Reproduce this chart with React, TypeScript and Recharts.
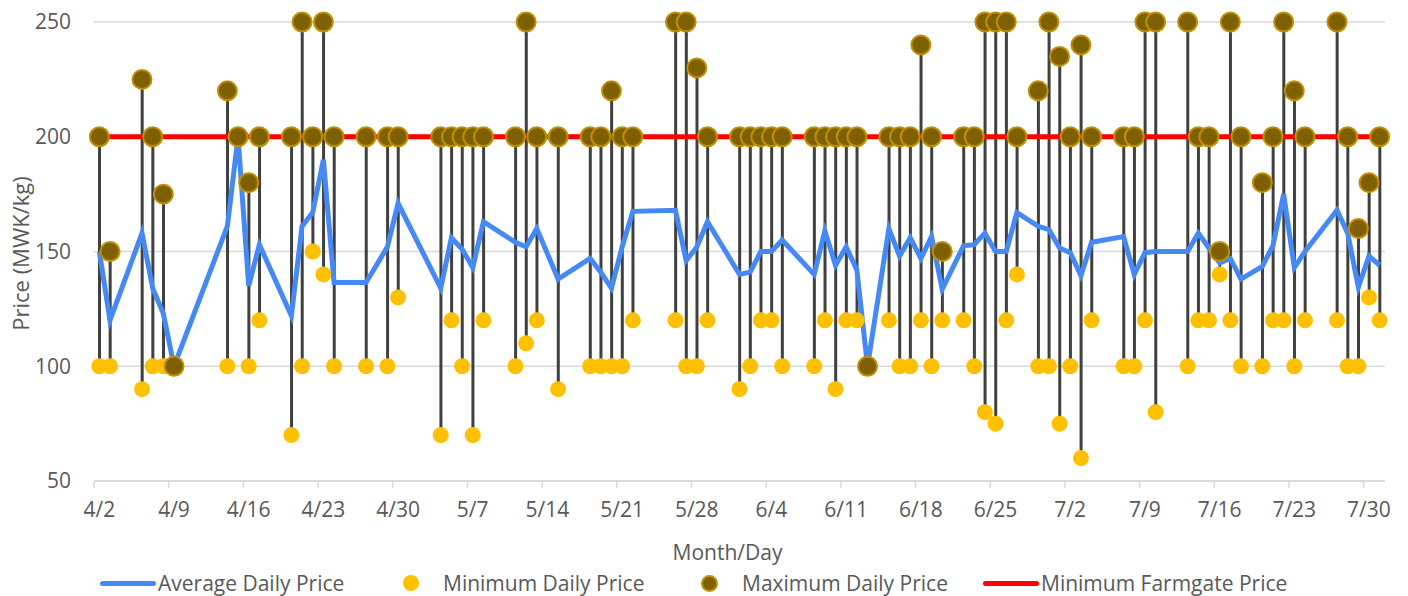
import {
  ComposedChart,
  Line,
  Bar,
  Scatter,
  XAxis,
  YAxis,
  CartesianGrid,
  Legend,
} from "recharts";

// market days with a recorded price (month/day)
const dates = [
  "4/2", "4/3", "4/6", "4/7", "4/8", "4/9", "4/14", "4/15", "4/16", "4/17",
  "4/20", "4/21", "4/22", "4/23", "4/24", "4/27", "4/29", "4/30", "5/4", "5/5",
  "5/6", "5/7", "5/8", "5/11", "5/12", "5/13", "5/15", "5/18", "5/19", "5/20",
  "5/21", "5/22", "5/26", "5/27", "5/28", "5/29", "6/1", "6/2", "6/3", "6/4",
  "6/5", "6/8", "6/9", "6/10", "6/11", "6/12", "6/13", "6/15", "6/16", "6/17",
  "6/18", "6/19", "6/20", "6/22", "6/23", "6/24", "6/25", "6/26", "6/27", "6/29",
  "6/30", "7/1", "7/2", "7/3", "7/4", "7/7", "7/8", "7/9", "7/10", "7/13",
  "7/14", "7/15", "7/16", "7/17", "7/18", "7/20", "7/21", "7/22", "7/23", "7/24",
  "7/27", "7/28", "7/29", "7/30", "7/31",
];

const avgPrice = [
  150, 120, 158, 134, 123, 100, 161, 200, 135, 153,
  122, 161, 167, 190, 136.5, 136.5, 152, 171, 134, 156,
  151, 143, 163, 154, 152, 160, 138, 147, 141, 134,
  152, 167.5, 168, 146, 152, 163, 140, 141, 150, 150,
  155, 140, 159, 144, 152, 142, 100, 160, 148, 156,
  147, 156.5, 133.5, 152.5, 153, 158, 150, 150, 167, 161,
  159.5, 151.5, 149.5, 139.5, 154, 156.5, 140, 149.5, 150, 150,
  158, 151.5, 145, 147, 138, 143.5, 152.5, 175, 143, 150,
  168, 158, 134.5, 148, 144,
];

const minPrice = [
  100, 100, 90, 100, 100, 100, 100, 200, 100, 120,
  70, 100, 150, 140, 100, 100, 100, 130, 70, 120,
  100, 70, 120, 100, 110, 120, 90, 100, 100, 100,
  100, 120, 120, 100, 100, 120, 90, 100, 120, 120,
  100, 100, 120, 90, 120, 120, 100, 120, 100, 100,
  120, 100, 120, 120, 100, 80, 75, 120, 140, 100,
  100, 75, 100, 60, 120, 100, 100, 120, 80, 100,
  120, 120, 140, 120, 100, 100, 120, 120, 100, 120,
  120, 100, 100, 130, 120,
];

const maxPrice = [
  200, 150, 225, 200, 175, 100, 220, 200, 180, 200,
  200, 250, 200, 250, 200, 200, 200, 200, 200, 200,
  200, 200, 200, 200, 250, 200, 200, 200, 200, 220,
  200, 200, 250, 250, 230, 200, 200, 200, 200, 200,
  200, 200, 200, 200, 200, 200, 100, 200, 200, 200,
  240, 200, 150, 200, 200, 250, 250, 250, 200, 220,
  250, 235, 200, 240, 200, 200, 200, 250, 250, 250,
  200, 200, 150, 250, 200, 180, 200, 250, 220, 200,
  250, 200, 160, 180, 200,
];

const FARMGATE = 200;
const yTicks = [50, 100, 150, 200, 250];
const TICK_EVERY = 7;

const START = Date.UTC(2020, 3, 2);
const DAY = 86400000;
const toIndex = (s: string) => {
  const [m, d] = s.split("/").map(Number);
  return Math.round((Date.UTC(2020, m - 1, d) - START) / DAY);
};
const toLabel = (i: number) => {
  const dt = new Date(START + Math.round(i) * DAY);
  return `${dt.getUTCMonth() + 1}/${dt.getUTCDate()}`;
};

const lastDay = toIndex(dates[dates.length - 1]);
const xTicks: number[] = [];
for (let i = 0; i <= lastDay; i += TICK_EVERY) xTicks.push(i - 0.5);

const rows = dates.map((d, i) => ({
  day: toIndex(d),
  avg: avgPrice[i],
  min: minPrice[i],
  max: maxPrice[i],
  range: [minPrice[i], maxPrice[i]],
  farmgate: FARMGATE,
}));

const FONT = "'Open Sans', sans-serif";
const GREY = "#595959";
const FS = 21;

const DateTick = (props: any) => {
  const { x, y, payload } = props;
  return (
    <text x={x + 5.3} y={y + 27} textAnchor="middle" fill={GREY} fontSize={FS} fontFamily={FONT}>
      {toLabel(payload.value + 0.5)}
    </text>
  );
};

const legendItems = [
  { label: "Average Daily Price", kind: "line", color: "#4589F5", left: 100 },
  { label: "Minimum Daily Price", kind: "dot", color: "#FFC000", left: 403 },
  { label: "Maximum Daily Price", kind: "dotMax", color: "#7F6000", left: 701 },
  { label: "Minimum Farmgate Price", kind: "line", color: "#FF0000", left: 983 },
];

const renderLegend = () => (
  <div style={{ position: "relative", height: 30, fontFamily: FONT, fontSize: FS, color: GREY }}>
    {legendItems.map((it) => (
      <div
        key={it.label}
        style={{ position: "absolute", left: it.left, top: 3, display: "flex", alignItems: "center", whiteSpace: "nowrap" }}
      >
        {it.kind === "line" ? (
          <span style={{ display: "inline-block", width: 56, height: 5, borderRadius: 3, background: it.color, marginRight: 2 }} />
        ) : (
          <span
            style={{
              display: "inline-block",
              width: it.kind === "dotMax" ? 13 : 16,
              height: it.kind === "dotMax" ? 13 : 16,
              borderRadius: "50%",
              background: it.color,
              border: it.kind === "dotMax" ? "2px solid #BF9000" : "none",
              marginRight: 24,
            }}
          />
        )}
        <span>{it.label}</span>
      </div>
    ))}
  </div>
);

export default function App() {
  return (
    <div style={{ position: "absolute", left: 0, top: 0, background: "#fff" }}>
      <ComposedChart width={1408} height={596} data={rows} margin={{ top: 22, right: 23, left: 0, bottom: 0 }}>
        <CartesianGrid vertical={false} stroke="#D9D9D9" strokeWidth={1.5} />
        <XAxis
          dataKey="day"
          type="number"
          domain={[-0.5, lastDay + 0.5]}
          ticks={xTicks}
          interval={0}
          height={85}
          stroke="#D9D9D9"
          strokeWidth={1.5}
          tickSize={7}
          tick={<DateTick />}
          label={{
            content: (p: any) => {
              const vb = p.viewBox;
              return (
                <text x={vb.x + vb.width / 2 - 12} y={vb.y + 79} textAnchor="middle" fill={GREY} fontSize={FS} fontFamily={FONT}>
                  Month/Day
                </text>
              );
            },
          }}
        />
        <YAxis
          domain={[50, 250]}
          ticks={yTicks}
          width={94}
          axisLine={false}
          tickLine={false}
          tickMargin={17}
          tick={{ fill: GREY, fontSize: FS, fontFamily: FONT }}
          label={{
            content: (p: any) => {
              const vb = p.viewBox;
              const cx = 20;
              const cy = vb.y + vb.height / 2 + 2;
              return (
                <text
                  x={cx}
                  y={cy}
                  transform={`rotate(-90 ${cx} ${cy})`}
                  textAnchor="middle"
                  dominantBaseline="central"
                  fill={GREY}
                  fontSize={22}
                  fontFamily={FONT}
                >
                  Price (MWK/kg)
                </text>
              );
            },
          }}
        />
        <Legend verticalAlign="bottom" height={30} content={renderLegend} wrapperStyle={{ left: 0, width: 1408, bottom: 0 }} />
        <Bar dataKey="range" barSize={3} fill="#404040" isAnimationActive={false} legendType="none" />
        <Line
          dataKey="avg"
          stroke="#4589F5"
          strokeWidth={5}
          dot={false}
          isAnimationActive={false}
        />
        <Scatter
          dataKey="min"
          isAnimationActive={false}
          shape={(p: any) => <circle cx={p.cx} cy={p.cy} r={8} fill="#FFC000" />}
        />
        <Scatter
          dataKey="max"
          isAnimationActive={false}
          shape={(p: any) => <circle cx={p.cx} cy={p.cy} r={9.5} fill="#7F6000" stroke="#BF9000" strokeWidth={2} />}
        />
        <Line dataKey="farmgate" stroke="#FF0000" strokeWidth={5} dot={false} isAnimationActive={false} />
      </ComposedChart>
    </div>
  );
}
